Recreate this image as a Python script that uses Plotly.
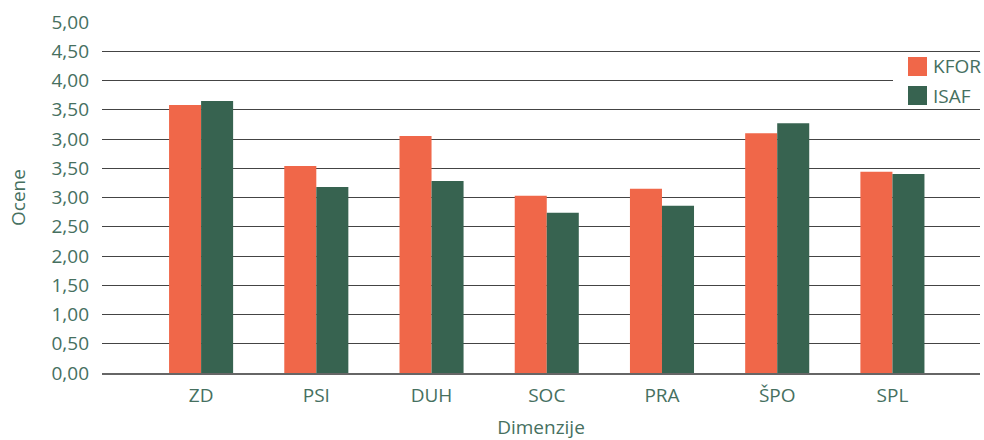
import plotly.graph_objects as go

categories = ["ZD", "PSI", "DUH", "SOC", "PRA", "ŠPO", "SPL"]
series_names = ["KFOR", "ISAF"]
# values in the chart's underlying (positional) axis units
kfor = [4.58, 3.54, 4.05, 3.03, 3.15, 4.10, 3.44]
isaf = [4.65, 3.18, 3.28, 2.74, 2.86, 4.27, 3.40]
tick_vals = [0, 0.5, 1, 1.5, 2, 2.5, 3, 3.5, 4, 4.5, 5, 5.5, 6]
tick_text = ["0,00", "0,50", "1,00", "1,50", "2,00", "2,50", "3,00",
             "3,50", "3,00", "3,50", "4,00", "4,50", "5,00"]

colors = ["#f06749", "#376350"]
text_color = "#46705f"
font_family = "Open Sans, Noto Sans, sans-serif"
fs = 19

fig = go.Figure()
for name, vals, col in zip(series_names, [kfor, isaf], colors):
    fig.add_trace(go.Bar(x=categories, y=vals, name=name, marker_color=col,
                         marker_line_width=0, showlegend=False))

# plot area geometry (px)
L, R, T, B = 102, 980, 22, 373
W, H = R - L, B - T
px = lambda v: (v - L) / W
py = lambda v: (B - v) / H

shapes = [dict(type="rect", xref="paper", yref="paper", layer="above",
               x0=px(893), x1=px(990), y0=py(107), y1=py(54),
               fillcolor="white", line_width=0)]
annotations = []
sw_tops = [57, 86]
for name, col, top in zip(series_names, colors, sw_tops):
    shapes.append(dict(type="rect", xref="paper", yref="paper", layer="above",
                       x0=px(908), x1=px(927), y0=py(top + 19), y1=py(top),
                       fillcolor=col, line_width=0))
    annotations.append(dict(xref="paper", yref="paper", x=px(931), y=py(top + 9.5),
                            xanchor="left", yanchor="middle", text=name,
                            showarrow=False,
                            font=dict(size=fs, color=text_color, family=font_family)))

fig.update_layout(
    width=984, height=440,
    margin=dict(l=L, r=984 - R, t=T, b=440 - B),
    paper_bgcolor="white", plot_bgcolor="white",
    barmode="group", bargap=0.444, bargroupgap=0,
    font=dict(family=font_family, size=fs, color=text_color),
    shapes=shapes, annotations=annotations,
    xaxis=dict(range=[-0.86, 6.76], showgrid=False, showline=True,
               linecolor="#666", linewidth=1.5, ticks="",
               ticklabelstandoff=4,
               title=dict(text="Dimenzije", standoff=16,
                          font=dict(size=fs, color=text_color))),
    yaxis=dict(range=[0, 6], tickvals=tick_vals, ticktext=tick_text,
               showgrid=True, gridcolor="#444", gridwidth=1.4,
               zeroline=False, showline=False, ticks="",
               ticklabelstandoff=12,
               title=dict(text="Ocene", standoff=20,
                          font=dict(size=fs, color=text_color))),
)

fig.write_html("out.html")
